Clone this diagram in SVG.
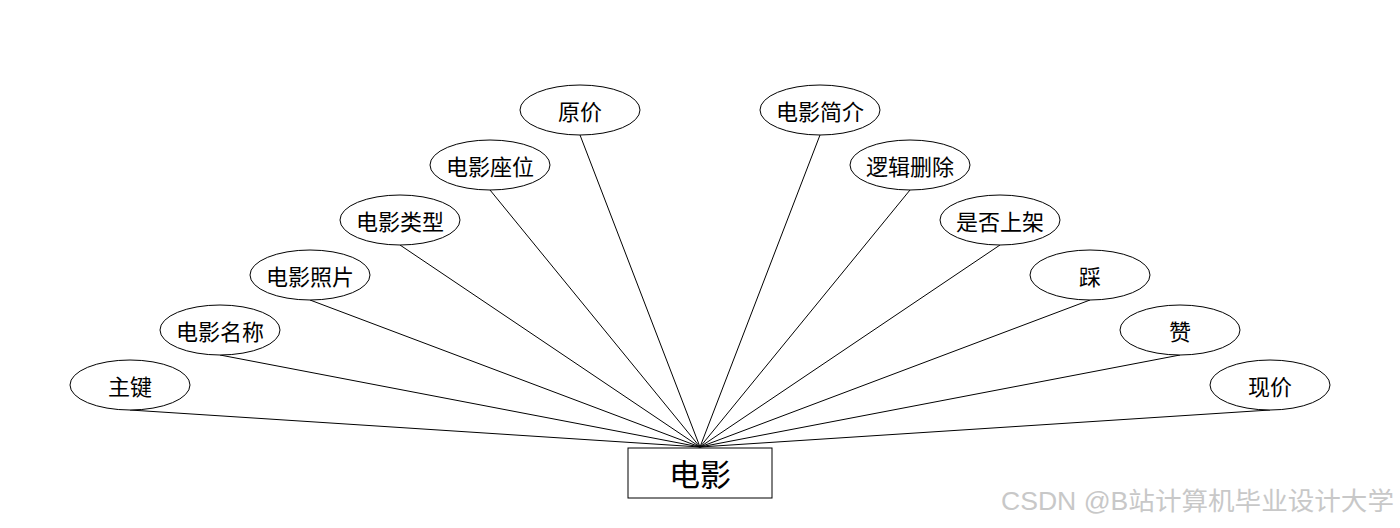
<svg xmlns="http://www.w3.org/2000/svg" width="1400" height="528" viewBox="0 0 1400 528">
<style>
.attr ellipse{fill:#fff;stroke:#000;stroke-width:1}
.attr text{font-family:"Noto Sans CJK SC","Liberation Sans",sans-serif;font-size:22px;fill:#000;text-anchor:middle;dominant-baseline:central}
.ent rect{fill:#fff;stroke:#000;stroke-width:1}
.ent text{font-family:"Noto Sans CJK SC","Liberation Sans",sans-serif;font-size:31px;fill:#000;text-anchor:middle;dominant-baseline:central}
.conn line{stroke:#000;stroke-width:1}
.wm{font-family:"Liberation Sans","Noto Sans CJK SC",sans-serif;font-size:25px;fill:#c8c8c8}
</style>
<rect width="1400" height="528" fill="#fff"/>
<g id="connectors" class="conn">
<line x1="130" y1="410" x2="700" y2="447"/>
<line x1="220" y1="355" x2="700" y2="447"/>
<line x1="310" y1="300" x2="700" y2="447"/>
<line x1="400" y1="245" x2="700" y2="447"/>
<line x1="490" y1="190" x2="700" y2="447"/>
<line x1="580" y1="135" x2="700" y2="447"/>
<line x1="820" y1="135" x2="700" y2="447"/>
<line x1="910" y1="190" x2="700" y2="447"/>
<line x1="1000" y1="245" x2="700" y2="447"/>
<line x1="1090" y1="300" x2="700" y2="447"/>
<line x1="1180" y1="355" x2="700" y2="447"/>
<line x1="1270" y1="410" x2="700" y2="447"/>
</g>
<g id="n-zhujian" class="attr"><ellipse cx="130" cy="385" rx="60" ry="25"/><text x="130" y="385">主键</text></g>
<g id="n-mingcheng" class="attr"><ellipse cx="220" cy="330" rx="60" ry="25"/><text x="220" y="330">电影名称</text></g>
<g id="n-zhaopian" class="attr"><ellipse cx="310" cy="275" rx="60" ry="25"/><text x="310" y="275">电影照片</text></g>
<g id="n-leixing" class="attr"><ellipse cx="400" cy="220" rx="60" ry="25"/><text x="400" y="220">电影类型</text></g>
<g id="n-zuowei" class="attr"><ellipse cx="490" cy="165" rx="60" ry="25"/><text x="490" y="165">电影座位</text></g>
<g id="n-yuanjia" class="attr"><ellipse cx="580" cy="110" rx="60" ry="25"/><text x="580" y="110">原价</text></g>
<g id="n-jianjie" class="attr"><ellipse cx="820" cy="110" rx="60" ry="25"/><text x="820" y="110">电影简介</text></g>
<g id="n-shanchu" class="attr"><ellipse cx="910" cy="165" rx="60" ry="25"/><text x="910" y="165">逻辑删除</text></g>
<g id="n-shangjia" class="attr"><ellipse cx="1000" cy="220" rx="60" ry="25"/><text x="1000" y="220">是否上架</text></g>
<g id="n-cai" class="attr"><ellipse cx="1090" cy="275" rx="60" ry="25"/><text x="1090" y="275">踩</text></g>
<g id="n-zan" class="attr"><ellipse cx="1180" cy="330" rx="60" ry="25"/><text x="1180" y="330">赞</text></g>
<g id="n-xianjia" class="attr"><ellipse cx="1270" cy="385" rx="60" ry="25"/><text x="1270" y="385">现价</text></g>
<g id="n-dianying" class="ent"><rect x="628" y="448" width="144" height="50"/><text x="700" y="472">电影</text></g>
<text class="wm" x="1001" y="510" textLength="393" lengthAdjust="spacingAndGlyphs">CSDN @B站计算机毕业设计大学</text>
</svg>
